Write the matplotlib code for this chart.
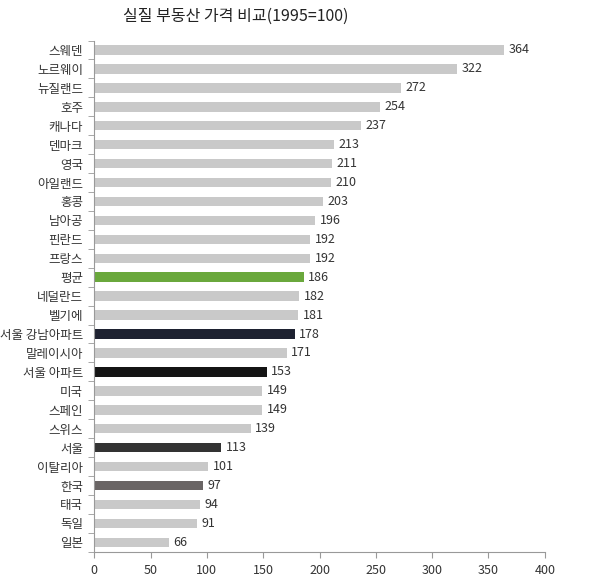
import matplotlib.pyplot as plt
import numpy as np

plt.rcParams['font.family'] = ['Noto Sans CJK KR', 'DejaVu Sans']

# data (top to bottom)
names = ["스웨덴", "노르웨이", "뉴질랜드", "호주", "캐나다", "덴마크", "영국",
         "아일랜드", "홍콩", "남아공", "핀란드", "프랑스", "평균", "네덜란드",
         "벨기에", "서울 강남아파트", "말레이시아", "서울 아파트", "미국", "스페인",
         "스위스", "서울", "이탈리아", "한국", "태국", "독일", "일본"]
values = [364, 322, 272, 254, 237, 213, 211, 210, 203, 196, 192, 192, 186,
          182, 181, 178, 171, 153, 149, 149, 139, 113, 101, 97, 94, 91, 66]
special = {"평균": "#6aa83c", "서울 강남아파트": "#1e2231",
           "서울 아파트": "#141414", "서울": "#333333", "한국": "#6a6565"}

colors = [special.get(n, "#c9c9c9") for n in names]

fig = plt.figure(figsize=(6, 5.79), dpi=100)
ax = fig.add_axes([0.157, 0.047, 0.751, 0.883])

ys = np.arange(len(names))
ax.barh(ys, values, height=0.5, color=colors)
for y, v in zip(ys, values):
    ax.text(v + 4, y, str(v), va='center', ha='left', fontsize=9, color='#333333')

ax.set_xlim(0, 400)
ax.set_ylim(len(names) - 0.5, -0.5)
ax.set_xticks(range(0, 401, 50))
ax.set_yticks(ys)
ax.set_yticklabels(names)
ax.set_yticks(np.arange(-0.5, len(names), 1), minor=True)
ax.tick_params(axis='y', which='major', length=0, pad=8, labelsize=9, labelcolor='#333333')
ax.tick_params(axis='y', which='minor', length=4, color='#999999', direction='out')
ax.tick_params(axis='x', length=4, color='#999999', labelsize=9, labelcolor='#333333', pad=5)
for s in ['top', 'right']:
    ax.spines[s].set_visible(False)
for s in ['left', 'bottom']:
    ax.spines[s].set_color('#999999')

fig.text(0.393, 0.972, "실질 부동산 가격 비교(1995=100)", ha='center', va='center',
         fontsize=11.5, color='#222222')

fig.savefig("out.png", dpi=100)
